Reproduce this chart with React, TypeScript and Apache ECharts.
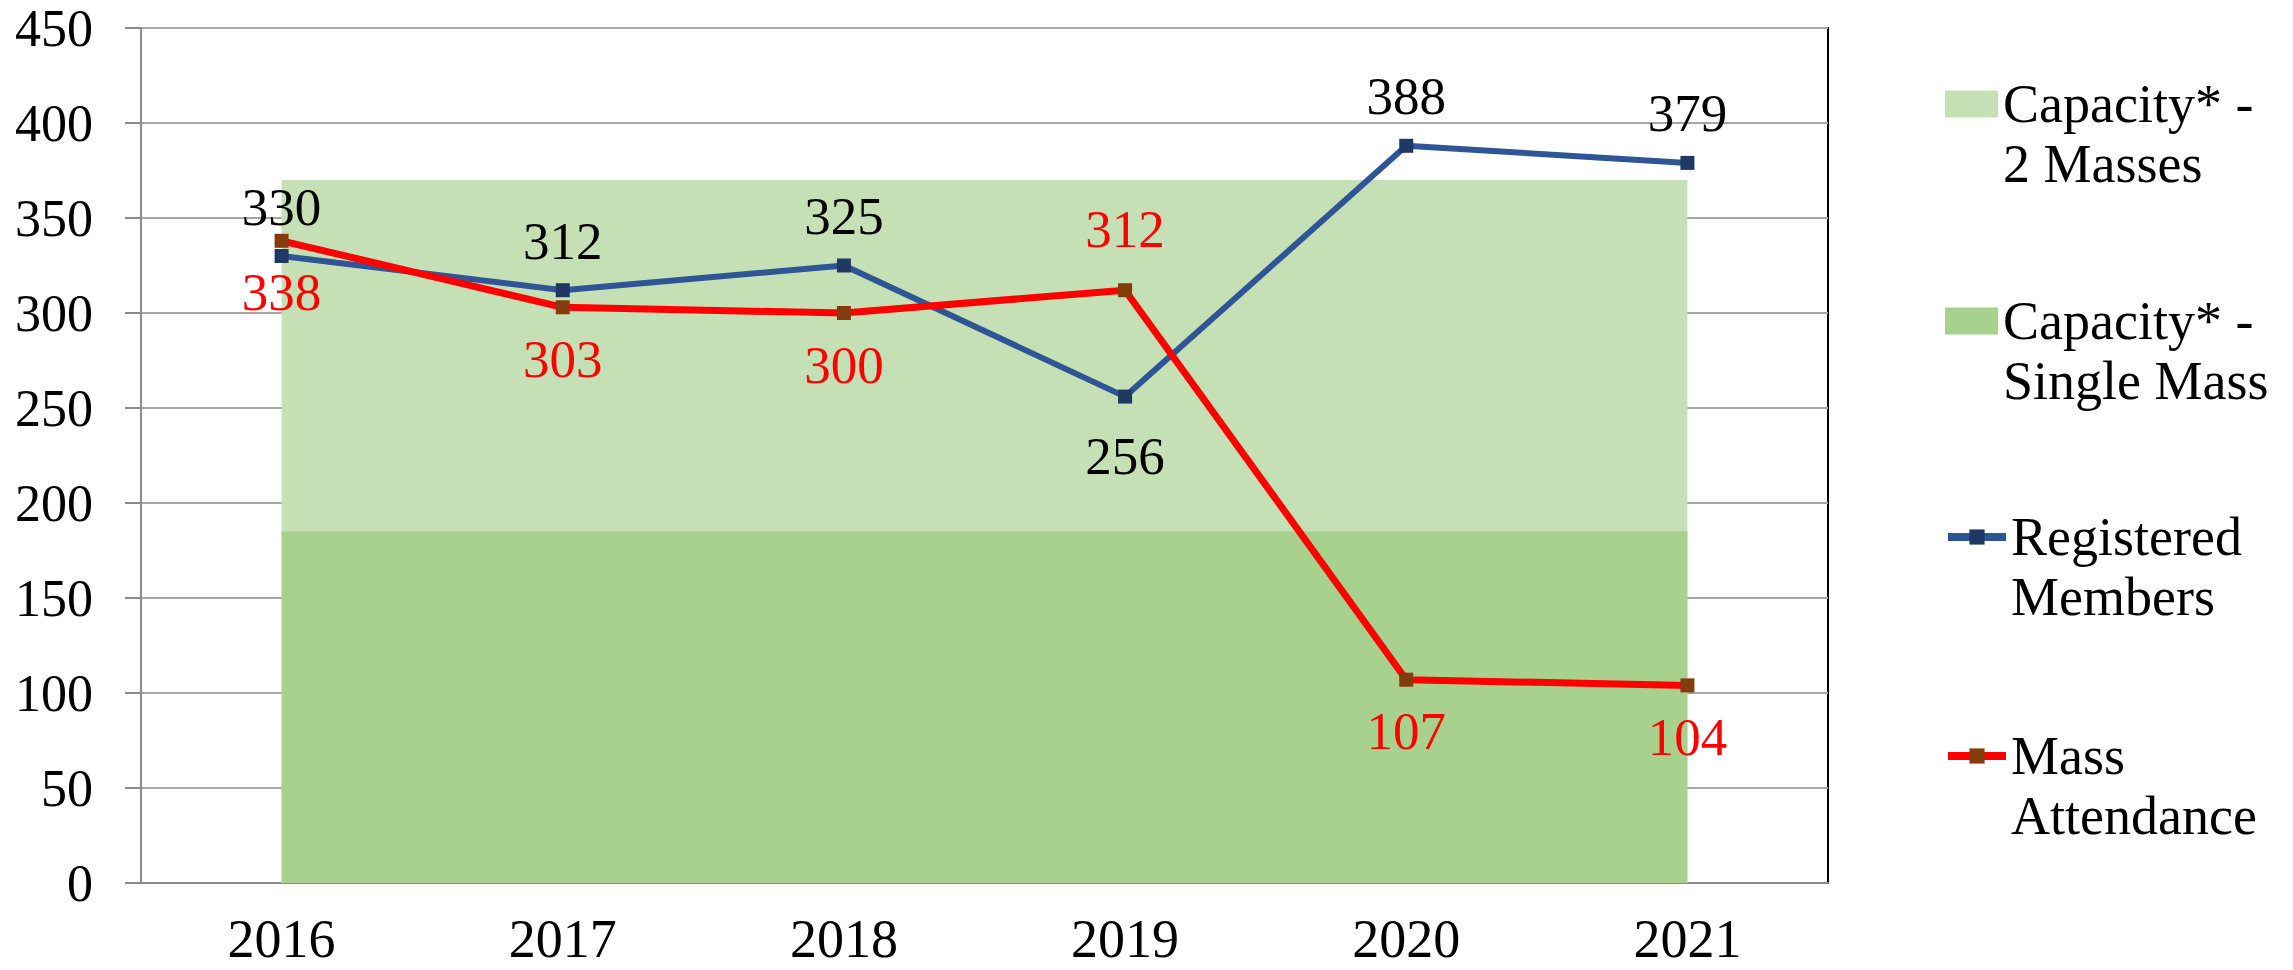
import React, { useEffect, useRef } from "react";
import * as echarts from "echarts";

const years = ["2016", "2017", "2018", "2019", "2020", "2021"];
const capacityTwoMasses = [370, 370, 370, 370, 370, 370];
const capacitySingleMass = [185, 185, 185, 185, 185, 185];
const registeredMembers = [330, 312, 325, 256, 388, 379];
const massAttendance = [338, 303, 300, 312, 107, 104];
const registeredBelow = ["2019"];
const attendanceAbove = ["2019"];

const NAME_CAP2 = "Capacity* -\n2 Masses";
const NAME_CAP1 = "Capacity* -\nSingle Mass";
const NAME_REG = "Registered\nMembers";
const NAME_ATT = "Mass\nAttendance";

const FONT = "'Liberation Serif', 'Times New Roman', serif";

export default function App() {
  const ref = useRef<HTMLDivElement>(null);
  useEffect(() => {
    if (!ref.current) return;
    const chart = echarts.init(ref.current, undefined, { renderer: "svg" });
    const regData = registeredMembers.map((v, i) => ({
      value: v,
      label: registeredBelow.includes(years[i]) ? { position: "bottom", distance: 26 } : undefined,
    }));
    const attData = massAttendance.map((v, i) => ({
      value: v,
      label: attendanceAbove.includes(years[i]) ? { position: "top", distance: 28 } : undefined,
    }));
    const legendText = {
      fontFamily: FONT,
      fontSize: 54,
      color: "#000",
      lineHeight: 60,
    };
    chart.setOption({
      animation: false,
      textStyle: { fontFamily: FONT },
      grid: {
        left: 141,
        top: 28,
        width: 1687,
        height: 855,
        show: true,
        borderColor: "#000",
        borderWidth: 2,
        backgroundColor: "transparent",
      },
      legend: [
        {
          orient: "vertical",
          left: 1945,
          top: 14,
          padding: 0,
          itemGap: 37,
          itemWidth: 53,
          itemHeight: 27,
          textStyle: legendText,
          formatter: (name: string) => "\n" + name,
          data: [
            { name: NAME_CAP2, icon: "rect" },
            { name: NAME_CAP1, icon: "rect" },
          ],
        },
        {
          orient: "vertical",
          left: 1944,
          top: 447,
          padding: 0,
          itemGap: 39,
          itemWidth: 58,
          itemHeight: 19,
          textStyle: legendText,
          lineStyle: { width: 8 },
          formatter: (name: string) => "\n" + name,
          data: [{ name: NAME_REG }, { name: NAME_ATT }],
        },
      ],
      xAxis: {
        type: "category",
        data: years,
        boundaryGap: true,
        axisLine: { lineStyle: { color: "#8c8c8c", width: 2 } },
        axisTick: { inside: true, length: 15, lineStyle: { color: "#8c8c8c", width: 2 } },
        axisLabel: { fontFamily: FONT, fontSize: 54, lineHeight: 40, color: "#000", margin: 36 },
      },
      yAxis: {
        type: "value",
        min: 0,
        max: 450,
        interval: 50,
        axisLine: { show: true, lineStyle: { color: "#8c8c8c", width: 2 } },
        axisTick: { show: true, length: 16, lineStyle: { color: "#8c8c8c", width: 2 } },
        splitLine: { lineStyle: { color: "#a6a6a6", width: 2 } },
        axisLabel: {
          fontFamily: FONT,
          fontSize: 52,
          lineHeight: 40,
          padding: [4, 0, 0, 0],
          color: "#000",
          margin: 48,
        },
      },
      series: [
        {
          name: NAME_CAP2,
          type: "line",
          data: capacityTwoMasses,
          symbol: "none",
          lineStyle: { width: 0, color: "#C5E0B4" },
          itemStyle: { color: "#C5E0B4" },
          areaStyle: { color: "#C5E0B4", opacity: 1 },
          z: 1,
        },
        {
          name: NAME_CAP1,
          type: "line",
          data: capacitySingleMass,
          symbol: "none",
          lineStyle: { width: 0, color: "#A9D18E" },
          itemStyle: { color: "#A9D18E" },
          areaStyle: { color: "#A9D18E", opacity: 1 },
          z: 2,
        },
        {
          name: NAME_REG,
          type: "line",
          data: regData,
          symbol: "rect",
          symbolSize: 14,
          lineStyle: { width: 6, color: "#2F5597" },
          itemStyle: { color: "#203864" },
          label: {
            show: true,
            position: "top",
            distance: 16,
            fontFamily: FONT,
            fontSize: 53,
            color: "#000",
          },
          z: 3,
        },
        {
          name: NAME_ATT,
          type: "line",
          data: attData,
          symbol: "rect",
          symbolSize: 14,
          lineStyle: { width: 7, color: "#FF0000" },
          itemStyle: { color: "#843C0C" },
          label: {
            show: true,
            position: "bottom",
            distance: 18,
            fontFamily: FONT,
            fontSize: 53,
            color: "#FF0000",
          },
          z: 4,
        },
      ],
    });
    return () => chart.dispose();
  }, []);
  return (
    <div
      ref={ref}
      style={{ position: "fixed", left: 0, top: 0, width: 2293, height: 970, background: "#fff" }}
    />
  );
}
